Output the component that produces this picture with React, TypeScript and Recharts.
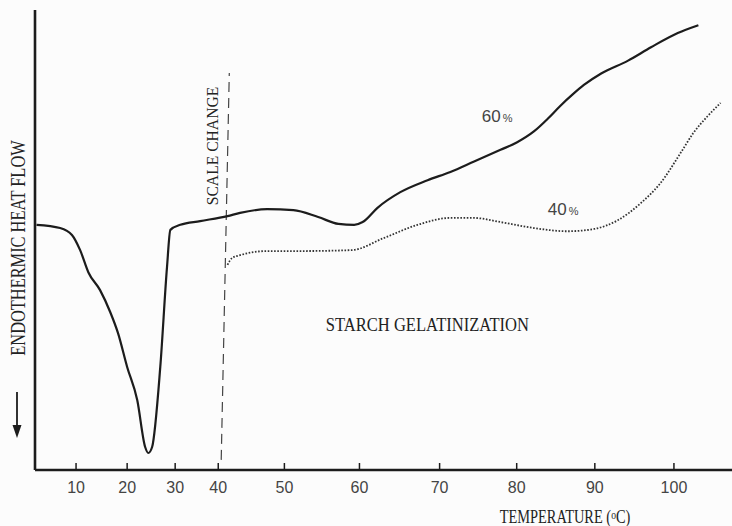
import React from 'react';
import { LineChart, Line, XAxis, YAxis, ReferenceLine, ReferenceDot } from 'recharts';

// temperature (°C) tick labels and the printed positions of the (uneven) axis
const TICKS = [10, 20, 30, 40, 50, 60, 70, 80, 90, 100];
const KNOT_T = [2, 10, 20, 30, 40, 50, 60, 70, 80, 90, 100, 107.6];
const KNOT_F = [0, 0.0589, 0.1322, 0.2011, 0.2629, 0.3578, 0.4655, 0.5805, 0.6911, 0.8032, 0.9167, 1];

// 60% sample, solid trace
const T60 = [2.3, 6.9, 9.2, 10.8, 12.4, 14.7, 16.7, 18.2, 20, 22.1, 23.75, 24.4, 25.2, 26.9, 28.3, 29.0, 31.2, 35.8, 41.4, 43.3, 47.4, 51.2, 54.5, 57.2, 59.3, 60.4, 62.25, 65.1, 68.5, 71.4, 74.4, 77.9, 80.0, 82.2, 84.0, 85.6, 87.2, 88.6, 90.8, 94.2, 97.1, 100.5, 103.2];
const H60 = [53.3, 52.6, 51.1, 47.8, 43.0, 39.1, 34.3, 29.8, 22.4, 15.2, 5.0, 3.7, 5.0, 22.4, 44.1, 52.2, 53.3, 54.1, 55.2, 55.9, 56.7, 56.5, 55.0, 53.5, 53.3, 53.9, 57.0, 60.4, 63.0, 64.8, 67.0, 69.6, 71.2, 73.6, 76.4, 79.2, 81.7, 83.7, 86.2, 89.0, 91.9, 95.0, 96.7];

// 40% sample, dotted trace (after scale change)
const T40 = [41.4, 42.1, 43.3, 47.4, 52.2, 59.0, 63.0, 67.25, 71.4, 74.4, 77.9, 82.2, 86.5, 89.9, 92.9, 95.8, 98.4, 100.9, 102.6, 104.4, 106.1];
const H40 = [44.6, 46.1, 46.7, 47.6, 47.6, 47.8, 50.4, 53.3, 54.8, 54.8, 53.9, 52.6, 51.9, 52.4, 54.3, 58.0, 62.6, 69.0, 73.4, 76.9, 79.8];

const data60 = T60.map((t, i) => ({ t, h: H60[i] }));
const data40 = T40.map((t, i) => ({ t, h: H40[i] }));

const INK = '#1c1c1c';
const SERIF = '"Liberation Serif", "DejaVu Serif", serif';
const SANS = '"Liberation Sans", Arial, sans-serif';

function piecewiseScale(dom: number[] = [KNOT_T[0], KNOT_T[KNOT_T.length - 1]], rng: number[] = [0, 1]): any {
  const s: any = (v: number) => {
    let i = 0;
    while (i < KNOT_T.length - 2 && v > KNOT_T[i + 1]) i++;
    const f = KNOT_F[i] + ((v - KNOT_T[i]) / (KNOT_T[i + 1] - KNOT_T[i])) * (KNOT_F[i + 1] - KNOT_F[i]);
    return rng[0] + f * (rng[1] - rng[0]);
  };
  s.domain = (d?: number[]) => {
    if (d === undefined) return dom.slice();
    dom = d;
    return s;
  };
  s.range = (r?: number[]) => {
    if (r === undefined) return rng.slice();
    rng = r;
    return s;
  };
  s.copy = () => piecewiseScale(dom.slice(), rng.slice());
  s.ticks = () => TICKS;
  return s;
}

// narrow serif caption, like the typeset labels of the original
const Caption = ({ x, y, rotate = 0, sx, size, children }: any) => (
  <text
    transform={`translate(${x} ${y}) rotate(${rotate}) scale(${sx} 1)`}
    textAnchor="middle"
    fontFamily={SERIF}
    fontSize={size}
    fill="#222"
  >
    {children}
  </text>
);

const TempTick = (props: any) => {
  const { x, y, payload } = props;
  return (
    <g>
      <line x1={x} x2={x} y1={y} y2={y - 7} stroke={INK} strokeWidth={1.5} />
      <text x={x} y={y + 23} textAnchor="middle" fontFamily={SANS} fontSize={16} fill="#444">
        {payload.value}
      </text>
    </g>
  );
};

const YTitle = () => (
  <g>
    <Caption x={25} y={248} rotate={-90} sx={0.82} size={20}>
      ENDOTHERMIC HEAT FLOW
    </Caption>
    <line x1={17} x2={17} y1={392} y2={428} stroke={INK} strokeWidth={1.8} />
    <path d="M12.5 425 L21.5 425 L17 438 Z" fill={INK} />
  </g>
);

const pctLabel = (big: string) => (p: any) => (
  <text x={p.viewBox.x} y={p.viewBox.y} fontFamily={SANS} fill="#444">
    <tspan fontSize={17}>{big}</tspan>
    <tspan fontSize={11} dx={2}>%</tspan>
  </text>
);

export default function App() {
  return (
    <div style={{ position: 'absolute', left: 0, top: 0, width: 732, height: 526, background: '#fcfcfc' }}>
      <LineChart width={732} height={526} margin={{ top: 10, right: 0, bottom: 0, left: 0 }}>
        <XAxis
          type="number"
          dataKey="t"
          domain={[KNOT_T[0], KNOT_T[KNOT_T.length - 1]]}
          scale={piecewiseScale()}
          ticks={TICKS}
          allowDataOverflow
          height={56}
          tickSize={0}
          tickMargin={0}
          tickLine={false}
          tick={<TempTick />}
          axisLine={{ stroke: INK, strokeWidth: 2.6 }}
          label={{
            content: () => (
              <Caption x={565} y={523} sx={0.8} size={18}>
                TEMPERATURE (<tspan fontSize={12} dy={-4}>o</tspan>
                <tspan dy={4}>C)</tspan>
              </Caption>
            ),
          }}
        />
        <YAxis
          type="number"
          domain={[0, 100]}
          width={35}
          tick={false}
          tickLine={false}
          axisLine={{ stroke: INK, strokeWidth: 2.6 }}
          label={{ content: () => <YTitle /> }}
        />
        <ReferenceLine
          segment={[{ x: 40.45, y: 2.2 }, { x: 41.67, y: 86.3 }]}
          stroke="#444"
          strokeWidth={1.2}
          strokeDasharray="10 6"
          label={{
            content: () => (
              <Caption x={218} y={146} rotate={-90} sx={0.92} size={17}>
                SCALE CHANGE
              </Caption>
            ),
          }}
        />
        <Line
          data={data60}
          dataKey="h"
          type="monotone"
          stroke={INK}
          strokeWidth={2.2}
          dot={false}
          isAnimationActive={false}
        />
        <Line
          data={data40}
          dataKey="h"
          type="monotone"
          stroke="#333"
          strokeWidth={1.8}
          strokeDasharray="1.6 1.6"
          dot={false}
          isAnimationActive={false}
        />
        <ReferenceDot x={75.6} y={75.4} r={1} fill="none" stroke="none" label={{ content: pctLabel('60') }} />
        <ReferenceDot x={84.1} y={55.2} r={1} fill="none" stroke="none" label={{ content: pctLabel('40') }} />
        <ReferenceDot
          x={68.6}
          y={30.0}
          r={1}
          fill="none"
          stroke="none"
          label={{
            content: (p: any) => (
              <Caption x={p.viewBox.x} y={p.viewBox.y} sx={0.92} size={18}>
                STARCH GELATINIZATION
              </Caption>
            ),
          }}
        />
      </LineChart>
    </div>
  );
}
